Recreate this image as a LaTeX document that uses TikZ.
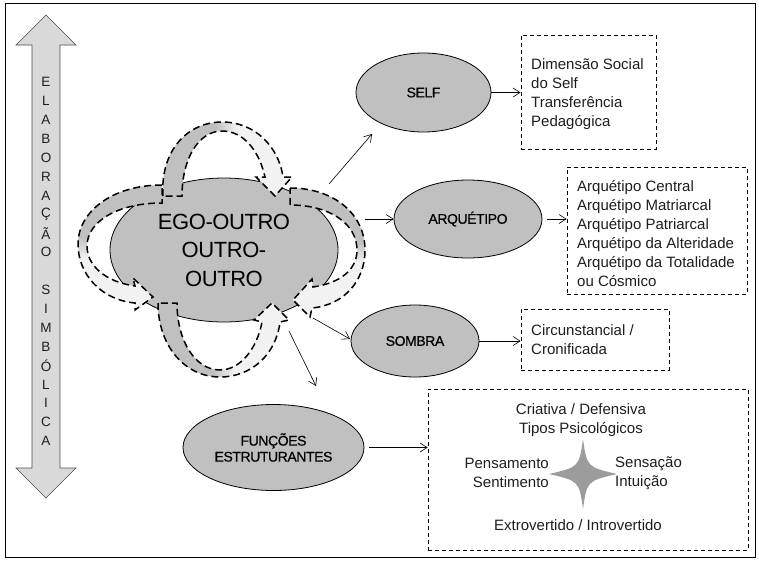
\documentclass[tikz,border=0pt]{standalone}
\usepackage{fontspec}
\setmainfont{Liberation Sans}
\newfontfamily\lblfont[LetterSpace=-3,FakeBold=0.6]{Liberation Sans}
\newfontfamily\bigfont[LetterSpace=-2]{Liberation Sans}
\usetikzlibrary{shapes.geometric,arrows.meta,calc}
\definecolor{ellgray}{HTML}{C0C0C0}
\definecolor{loopdark}{HTML}{C0C0C0}
\definecolor{looplight}{HTML}{F2F2F2}
\definecolor{bargray}{HTML}{D9D9D9}
\definecolor{txtgray}{HTML}{1E1E1E}
\definecolor{stargray}{HTML}{9C9C9C}
\pgfdeclarehorizontalshading{loopshade}{100bp}{color(0bp)=(loopdark); color(46bp)=(loopdark); color(54bp)=(looplight); color(100bp)=(looplight)}

\begin{document}
\begin{tikzpicture}[x=1pt,y=-1pt,
  bubble/.style={ellipse, draw=black, line width=0.8pt, fill=ellgray, inner sep=0pt,
    font=\lblfont\fontsize{14}{16}\selectfont, align=center},
  notebox/.style={draw=black, line width=0.8pt, dash pattern=on 4pt off 3pt, inner sep=0pt},
  notetext/.style={inner sep=0pt, text=txtgray, font=\fontsize{15}{19}\selectfont},
  conn/.style={draw=black, line width=0.6pt, -{Straight Barb[length=7pt,width=9pt]}},
  loopband/.style={draw=black, line width=1.5pt, dash pattern=on 7pt off 4pt, shade, shading=loopshade},
  barletter/.style={inner sep=0pt, text=txtgray, font=\fontsize{13.5}{14}\selectfont}]
\useasboundingbox (0,0) rectangle (759,562);

% outer frame
\draw[line width=0.8pt] (5,3) rectangle (755,557);

% vertical double arrow: symbolic elaboration
\draw[fill=bargray, draw=black!70, line width=0.6pt]
  (46,15) -- (76,45) -- (60,45) -- (60,468) -- (76,468) -- (46,498)
  -- (16,468) -- (32,468) -- (32,45) -- (16,45) -- cycle;
\foreach \ch [count=\k from 0] in {E,L,A,B,O,R,A,Ç,Ã,O}
  \node[barletter] (la\k) at (46,{82+18.9*\k}) {\ch};
\foreach \ch [count=\k from 11] in {S,I,M,B,Ó,L,I,C,A}
  \node[barletter] (lb\k) at (46,{82+18.9*\k}) {\ch};

% central ellipse
\node[bubble, minimum width=228pt, minimum height=144pt,
  font=\bigfont\fontsize{22}{28.5}\selectfont] (ego) at (224,250)
  {EGO-OUTRO\\OUTRO-\\OUTRO};

% curved block arrows around the centre
\path[loopband] (158,303) .. controls (158,346) and (185,377) .. (220,377)
  .. controls (251,377) and (276,355) .. (280,322) -- (289,320) -- (272,303)
  -- (254,320) -- (262,322) .. controls (257,349) and (240,370) .. (220,370)
  .. controls (196,370) and (177,342) .. (177,303) -- cycle;
\path[loopband] (163,196) .. controls (160,150) and (188,122) .. (222,122)
  .. controls (256,122) and (279,148) .. (283,177) -- (292,177) -- (275,196)
  -- (256,177) -- (265,177) .. controls (259,150) and (243,131) .. (222,131)
  .. controls (199,131) and (182,158) .. (182,196) -- cycle;
\path[loopband, shading angle=-90] (162,185) .. controls (112,185) and (78,212) .. (78,244)
  .. controls (78,275) and (102,300) .. (135,303) -- (135,310) -- (153,297)
  -- (133,278) -- (135,286) .. controls (106,282) and (87,266) .. (87,246)
  .. controls (87,222) and (117,203) .. (162,203) -- cycle;
\path[loopband, shading angle=-90] (290,188) .. controls (334,188) and (365,214) .. (365,250)
  .. controls (365,281) and (344,305) .. (312,308) -- (310,317) -- (293,300)
  -- (312,279) -- (313,287) .. controls (340,283) and (357,270) .. (357,250)
  .. controls (357,224) and (330,205) .. (290,205) -- cycle;

% satellite ellipses
\node[bubble, minimum width=135pt, minimum height=79pt] (self) at (423.5,92.5) {SELF};
\node[bubble, minimum width=148pt, minimum height=78pt] (arq) at (468,219) {ARQUÉTIPO};
\node[bubble, minimum width=128pt, minimum height=72pt] (sombra) at (415,341) {SOMBRA};
\node[bubble, minimum width=181pt, minimum height=86pt] (fun) at (273.5,447.5) {FUNÇÕES\\ESTRUTURANTES};

% dashed note boxes
\node[notebox, minimum width=135pt, minimum height=114pt] (selfbox) at (588.5,92) {};
\node[notetext, anchor=north west, align=left] (selftxt) at (531,58)
  {Dimensão Social\\do Self\\Transferência\\Pedagógica};
\node[notebox, minimum width=180pt, minimum height=127pt] (arqbox) at (657,230.5) {};
\node[notetext, anchor=north west, align=left] (arqtxt) at (577,180)
  {Arquétipo Central\\Arquétipo Matriarcal\\Arquétipo Patriarcal\\Arquétipo da Alteridade\\Arquétipo da Totalidade\\ou Cósmico};
\node[notebox, minimum width=148pt, minimum height=61pt] (sbox) at (595,339.5) {};
\node[notetext, anchor=north west, align=left] (stxt) at (531,324)
  {Circunstancial /\\Cronificada};
\node[notebox, minimum width=320pt, minimum height=161pt] (fbox) at (588,469.5) {};
\node[notetext, align=center] (crit) at (581,420) {Criativa / Defensiva\\Tipos Psicológicos};
\node[notetext, align=right, anchor=east] (pens) at (549,473) {Pensamento\\Sentimento};
\node[notetext, align=left, anchor=west] (sens) at (615,473) {Sensação\\Intuição};
\node[notetext] (extro) at (578,525) {Extrovertido / Introvertido};

% four-pointed star
\fill[stargray] (583,439) .. controls (587,467) .. (617,474) .. controls (587,481) .. (583,509)
  .. controls (579,481) .. (549,474) .. controls (579,467) .. (583,439) -- cycle;

% connectors
\coordinate (s1) at (329,184);
\coordinate (e1) at (372,134);
\draw[conn] (s1) -- (e1);
\coordinate (s2) at (365,219);
\draw[conn] (s2) -- (arq.west);
\coordinate (s3) at (313,318);
\coordinate (e3) at (350,339);
\draw[conn] (s3) -- (e3);
\coordinate (s4) at (289,331);
\coordinate (e4) at (316,386);
\draw[conn] (s4) -- (e4);
\draw[conn] (self.east) -- (self.east -| selfbox.west);
\draw[conn, shorten <=5pt] (arq.east) -- (arq.east -| arqbox.west);
\draw[conn] (sombra.east) -- (sombra.east -| sbox.west);
\draw[conn, shorten <=5pt] (fun.east) -- (fun.east -| fbox.west);
\end{tikzpicture}
\end{document}
